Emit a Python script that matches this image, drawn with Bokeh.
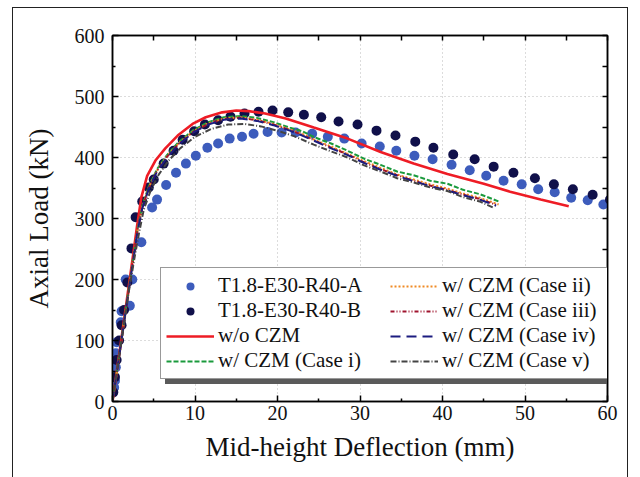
from bokeh.plotting import figure
from bokeh.models import LinearAxis, Legend, LegendItem, Range1d, FixedTicker
from bokeh.embed import file_html
from bokeh.resources import INLINE

# Test data: mid-height deflection (mm) vs axial load (kN)
test_a_x = [0.2, 0.3, 0.4, 0.4, 0.5, 1.0, 1.1, 2.1, 1.6, 2.4, 3.5, 4.8, 5.4, 6.5, 7.7, 8.9, 10.1, 11.5,
            12.8, 14.2, 15.7, 17.1, 18.8, 20.5, 22.2, 24.2, 26.1, 28.1, 30.2, 32.4, 34.4, 36.6,
            38.8, 41.1, 43.3, 45.3, 47.4, 49.6, 51.6, 53.6, 55.6, 57.6, 59.5]
test_a_y = [23, 34, 56, 79, 97, 130, 148, 157, 200, 200, 261, 318, 331, 355, 375, 390, 403, 416,
            423, 431, 434, 439, 442, 441, 441, 439, 434, 431, 423, 418, 411, 403,
            397, 388, 379, 370, 362, 356, 348, 343, 334, 330, 323]

test_b_x = [0.1, 0.3, 0.5, 0.8, 1.1, 1.4, 1.8, 2.3, 2.8, 3.6, 4.4, 5.0, 6.2, 7.4, 8.5, 9.9,
            11.2, 12.8, 14.3, 16.0, 17.7, 19.4, 21.3, 23.2, 25.3, 27.4, 29.7, 32.0, 34.3,
            36.7, 38.9, 41.3, 43.9, 46.2, 48.6, 51.2, 53.5, 55.8, 58.2, 60.3]
test_b_y = [15, 40, 68, 100, 125, 150, 195, 251, 302, 328, 351, 364, 390, 411, 429, 443,
            454, 461, 467, 472, 475, 477, 474, 470, 466, 459, 454, 444, 436,
            426, 416, 405, 397, 385, 375, 366, 356, 348, 339, 331]

# FE model without cohesive zone
no_czm_x = [0, 1.0, 2.0, 2.6, 3.0, 3.5, 4.2, 5.2, 6.4, 7.9, 9.7, 11.3, 13.3, 15.0, 16.5, 18.5,
            21.0, 24.4, 28.5, 32.5, 36.5, 40.6, 45.0, 48.2, 51.9, 55.3]
no_czm_y = [0, 95, 192, 250, 290, 335, 370, 395, 415, 436, 455, 466, 474, 477, 476, 472,
            464, 449, 431, 409, 390, 373, 357, 344, 331, 320]

# FE models with cohesive zone, cases i-v
case1_x = [0, 1.0, 2.0, 2.6, 3.0, 3.6, 4.4, 5.4, 6.6, 8.0, 9.8, 11.6, 13.5, 15.5, 17.5, 19.5,
           21.5, 23.0, 24.5, 26.5, 28.5, 30.5, 32.5, 34.5, 36.5, 38.5, 40.6, 42.5, 44.5, 47.0]
case1_y = [0, 94, 188, 243, 280, 320, 353, 381, 404, 425, 445, 458, 466, 468, 465, 458,
           449, 443, 433, 423, 411, 398, 388, 377, 371, 362, 357, 347, 340, 327]

case2_x = [0, 1.0, 2.0, 2.6, 3.0, 3.6, 4.4, 5.4, 6.6, 8.0, 9.8, 11.6, 13.5, 15.5, 17.5, 19.5,
           21.5, 23.0, 24.5, 26.5, 28.5, 30.5, 32.5, 34.5, 36.5, 38.5, 40.6, 42.5, 44.5, 46.8]
case2_y = [0, 93, 186, 241, 278, 318, 351, 379, 402, 423, 443, 456, 464, 466, 462, 455,
           446, 439, 429, 418, 406, 394, 383, 372, 364, 356, 349, 341, 334, 323]

case3_x = [0, 1.0, 2.0, 2.6, 3.0, 3.6, 4.4, 5.4, 6.6, 8.0, 9.8, 11.6, 13.5, 15.5, 17.5, 19.5,
           21.5, 23.0, 24.5, 26.5, 28.5, 30.5, 32.5, 34.5, 36.5, 38.5, 40.6, 42.5, 44.5, 46.6]
case3_y = [0, 93, 185, 240, 277, 317, 350, 378, 401, 422, 442, 455, 463, 465, 461, 454,
           445, 437, 428, 416, 405, 392, 381, 371, 362, 354, 347, 339, 332, 322]

case4_x = [0, 1.0, 2.0, 2.6, 3.0, 3.6, 4.4, 5.4, 6.6, 8.0, 9.8, 11.6, 13.5, 15.5, 17.5, 19.5,
           21.5, 23.0, 24.5, 26.5, 28.5, 30.5, 32.5, 34.5, 36.5, 38.5, 40.6, 42.5, 44.5, 46.5]
case4_y = [0, 92, 185, 239, 276, 316, 349, 377, 400, 421, 441, 454, 462, 464, 460, 453,
           444, 436, 427, 415, 404, 391, 380, 370, 361, 353, 346, 338, 331, 321]

case5_x = [0, 1.0, 2.0, 2.7, 3.2, 3.8, 4.6, 5.6, 6.8, 8.2, 10.0, 12.0, 14.0, 16.0, 18.0, 20.0,
           22.0, 24.4, 26.5, 28.5, 30.5, 32.5, 34.5, 36.5, 38.5, 40.6, 42.5, 44.5, 46.3]
case5_y = [0, 90, 182, 238, 275, 315, 345, 372, 395, 415, 434, 447, 454, 455, 451, 444,
           435, 421, 410, 400, 387, 377, 366, 359, 351, 345, 335, 328, 317]

x_ticks = [0, 10, 20, 30, 40, 50, 60]
y_ticks = [0, 100, 200, 300, 400, 500, 600]
x_minor = [5, 15, 25, 35, 45, 55]
y_minor = [50, 150, 250, 350, 450, 550]

FONT = "Liberation Serif"

p = figure(width=614, height=469, x_range=Range1d(0, 60), y_range=Range1d(0, 600),
           output_backend="svg", toolbar_location=None,
           min_border_left=99, min_border_right=20, min_border_top=27, min_border_bottom=76,
           margin=(8, 0, 0, 13), styles={"outline": "1.5px solid #222222"})
p.outline_line_color = "black"
p.outline_line_width = 1.5
p.background_fill_color = "white"
p.border_fill_color = "white"

xt = FixedTicker(ticks=x_ticks, minor_ticks=x_minor)
yt = FixedTicker(ticks=y_ticks, minor_ticks=y_minor)
# mirrored frame ticks on top/right: tick marks only, no labels
xt_mirror = FixedTicker(ticks=[], minor_ticks=x_ticks + x_minor)
yt_mirror = FixedTicker(ticks=[], minor_ticks=y_ticks + y_minor)


def style_axis(ax):
    ax.axis_line_color = "black"
    ax.axis_line_width = 1.5
    ax.major_tick_in = 6
    ax.major_tick_out = 0
    ax.minor_tick_in = 3
    ax.minor_tick_out = 0
    ax.major_tick_line_width = 1.5
    ax.minor_tick_line_width = 1.5
    ax.major_label_text_font = FONT
    ax.axis_label_text_font = FONT
    ax.axis_label_text_font_style = "normal"
    ax.major_label_text_color = "#111111"
    ax.axis_label_text_color = "#111111"
    ax.major_label_text_font_size = "20px"
    ax.axis_label_text_font_size = "27px"


p.xaxis.ticker = xt
p.yaxis.ticker = yt
p.xaxis.axis_label = "Mid-height Deflection (mm)"
p.yaxis.axis_label = "Axial Load (kN)"
style_axis(p.xaxis[0])
style_axis(p.yaxis[0])
p.xaxis.major_label_standoff = 4
p.yaxis.major_label_standoff = 8
p.xaxis.axis_label_standoff = 9
p.yaxis.axis_label_standoff = 18

top_ax = LinearAxis(ticker=xt_mirror)
right_ax = LinearAxis(ticker=yt_mirror)
for ax in (top_ax, right_ax):
    style_axis(ax)
    ax.minor_tick_in = 5
    ax.major_label_standoff = 0
p.add_layout(top_ax, "above")
p.add_layout(right_ax, "right")

p.xgrid.ticker = xt
p.ygrid.ticker = yt
for g in (p.xgrid[0], p.ygrid[0]):
    g.grid_line_color = "#b8b8b8"
    g.grid_line_dash = "1 3"
    g.grid_line_width = 1

r_a = p.scatter(test_a_x, test_a_y, size=10, color="#3d5cbc", line_color=None)
r_b = p.scatter(test_b_x, test_b_y, size=10, color="#10104a", line_color=None)
r_0 = p.line(no_czm_x, no_czm_y, line_color="#ee1c25", line_width=2.6)
r_1 = p.line(case1_x, case1_y, line_color="#1a9a3c", line_width=2, line_dash="5 2")
r_2 = p.line(case2_x, case2_y, line_color="#f08a24", line_width=2, line_dash="2 2")
r_3 = p.line(case3_x, case3_y, line_color="#a0142e", line_width=2, line_dash="4 2 1 2 1 2")
r_4 = p.line(case4_x, case4_y, line_color="#1c1c80", line_width=2, line_dash="10 6")
r_5 = p.line(case5_x, case5_y, line_color="#444444", line_width=2, line_dash="6 2 1 2")

labels = ["T1.8-E30-R40-A", "T1.8-E30-R40-B", "w/o CZM", "w/ CZM (Case i)",
          "w/ CZM (Case ii)", "w/ CZM (Case iii)", "w/ CZM (Case iv)", "w/ CZM (Case v)"]
rends = [r_a, r_b, r_0, r_1, r_2, r_3, r_4, r_5]

# drop shadow: one wide blank item sized like the legend box, offset down-right
shadow = Legend(items=[LegendItem(label=" ", renderers=[r_5])], location=(53, 17))
shadow.padding = 0
shadow.margin = 0
shadow.spacing = 0
shadow.glyph_width = 431
shadow.glyph_height = 114
shadow.label_height = 114
shadow.label_width = 5
shadow.label_standoff = 4
shadow.label_text_font = FONT
shadow.label_text_font_size = "21px"
shadow.background_fill_color = "#5a5a5a"
shadow.background_fill_alpha = 1
shadow.border_line_color = "#5a5a5a"
p.add_layout(shadow, "center")

items = [LegendItem(label=t, renderers=[r]) for t, r in zip(labels, rends)]
lg = Legend(items=items, location=(48, 22), ncols=2, orientation="vertical")
lg.label_text_font = FONT
lg.label_text_font_size = "21px"
lg.label_text_color = "#111111"
lg.glyph_width = 48
lg.glyph_height = 20
lg.label_height = 20
lg.label_width = 172
lg.label_standoff = 4
lg.spacing = 0
lg.padding = 5
lg.margin = 0
lg.background_fill_color = "white"
lg.background_fill_alpha = 1
lg.border_line_color = "#333333"
lg.border_line_width = 1.5
p.add_layout(lg, "center")

open("out.html", "w").write(file_html(p, INLINE))
